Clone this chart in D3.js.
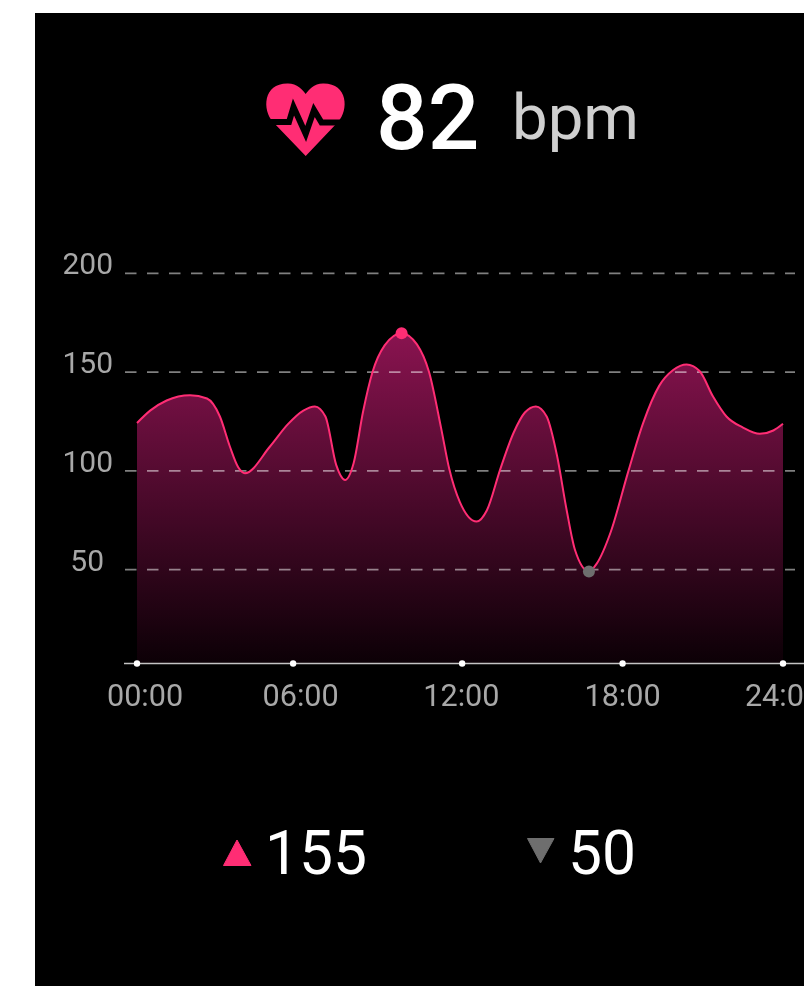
<!DOCTYPE html>
<html>
<head>
<meta charset="utf-8">
<script src="https://cdn.jsdelivr.net/npm/d3@7"></script>
<style>
  html, body { margin: 0; padding: 0; background: #fff; overflow: hidden; }
  svg { display: block; font-family: Roboto, sans-serif; }
</style>
</head>
<body>
<div id="chart"></div>
<script>
// hours of day
let hours = [0, 0.5, 1.1, 1.97, 2.6, 3.08, 3.45, 3.76, 4.01, 4.94, 5.6, 6.18, 6.61, 7.0, 7.4, 7.73, 8.05, 8.4, 8.75, 9.2, 9.83, 10.4, 10.85, 11.3, 11.6, 12.0, 12.62, 13.0, 13.5, 14.0, 14.41, 14.82, 15.22, 15.6, 15.96, 16.27, 16.79, 17.08, 17.6, 18.25, 18.8, 19.4, 19.92, 20.42, 20.9, 21.4, 21.9, 22.5, 23.14, 23.64, 24];
let bpm = [124.2, 130.6, 135.6, 138.3, 136.6, 127.5, 112.3, 101.8, 98.8, 112.3, 123.5, 130.5, 132.6, 127.5, 103, 95.4, 104, 130, 150, 163.5, 169.7, 164, 150, 121.5, 101, 84, 74.3, 80, 101, 119.5, 129.5, 132.6, 127.5, 108, 80.3, 60, 49, 53, 69, 99.6, 124, 143, 151, 153.8, 150.5, 137.6, 127.5, 122, 118.7, 120.4, 123.8];

let yTicks = [50, 100, 150, 200];
// the x ticks are not evenly spaced in the source picture
let xTickHours = [0, 5.8, 12.08, 18.04, 24];
let xLabelHours = [0.3, 6.08, 12.05, 18.04, 24.0];
let xTickLabels = ["00:00", "06:00", "12:00", "18:00", "24:00"];

let currentBpm = "82";
let maxLabel = "155";
let minLabel = "50";
let peakPoint = [9.83, 169.7];
let lowPoint = [16.79, 49];

let w = 804;
let h = 986;
let pink = "#ff2d74";
let gray = "#6e6e6e";

let xScale = d3.scaleLinear().domain([0, 24]).range([137, 783]);
let yScale = d3.scaleLinear().domain([0, 200]).range([668.3, 273.3]);
let axisY = 663.5;

let svg = d3.select("#chart").append("svg").attr("width", w).attr("height", h);
svg.append("rect").attr("x", 35).attr("y", 13).attr("width", w - 35).attr("height", h - 13).attr("fill", "#000");

let defs = svg.append("defs");
let grad = defs.append("linearGradient").attr("id", "areaFill")
  .attr("gradientUnits", "userSpaceOnUse")
  .attr("x1", 0).attr("x2", 0).attr("y1", yScale(170)).attr("y2", axisY);
grad.append("stop").attr("offset", 0).attr("stop-color", "#8a1350");
grad.append("stop").attr("offset", 1).attr("stop-color", "#0c0006");

// the source is a slightly soft upscaled screenshot
let soft = defs.append("filter").attr("id", "soft")
  .attr("filterUnits", "userSpaceOnUse")
  .attr("color-interpolation-filters", "sRGB")
  .attr("x", 35).attr("y", 13).attr("width", w).attr("height", h);
soft.append("feGaussianBlur").attr("stdDeviation", 0.7);

let viz = svg.append("g").attr("filter", "url(#soft)");

// header
let heart = viz.append("g");
heart.append("path")
  .attr("d", "M305.7,156 L273,122 C262,110 263,83 288,83.5 C297,83.5 303,90 305.7,94 C308.5,90 314,83.5 323,83.5 C348,83 349,110 338,122 Z")
  .attr("fill", pink);
heart.append("path")
  .attr("d", "M262,122 L289,122 L293.5,107 L305.7,134 L314,110 L321.5,122.5 L350,122.5")
  .attr("fill", "none").attr("stroke", "#000").attr("stroke-width", 6).attr("stroke-linejoin", "miter");

viz.append("text").attr("x", 376).attr("y", 149).attr("font-size", 91).attr("font-weight", 500).attr("fill", "#fff").text(currentBpm);
viz.append("text").attr("x", 512).attr("y", 139).attr("font-size", 63.5).attr("fill", "#cfcfcf").text("bpm");

// area + line
let area = d3.area().x((d, i) => xScale(hours[i])).y0(axisY).y1(d => yScale(d)).curve(d3.curveMonotoneX);
let line = d3.line().x((d, i) => xScale(hours[i])).y(d => yScale(d)).curve(d3.curveMonotoneX);

viz.append("path").datum(bpm).attr("d", area).attr("fill", "url(#areaFill)");

// y axis with the dashed grid
let yAxis = d3.axisLeft(yScale).tickValues(yTicks).tickSize(0).tickPadding(0).offset(0);
let yAxisGroup = viz.append("g").attr("transform", "translate(125,0)").call(yAxis);
yAxisGroup.select(".domain").remove();
yAxisGroup.selectAll(".tick line")
  .attr("x1", 0).attr("x2", 670)
  .attr("stroke", "#fff").attr("stroke-opacity", 0.5).attr("stroke-width", 1.8)
  .attr("stroke-dasharray", "11.5 10.5");
yAxisGroup.selectAll(".tick text")
  .attr("x", d => d == 50 ? -21 : -12)
  .attr("y", 1).attr("dy", 0)
  .attr("text-anchor", "end")
  .attr("font-family", "Roboto, sans-serif")
  .attr("font-size", 30).attr("fill", "#a8a8a8");

viz.append("path").datum(bpm).attr("d", line).attr("fill", "none").attr("stroke", pink).attr("stroke-width", 2);

// x axis
let xAxis = d3.axisBottom(xScale).tickValues(xTickHours).tickSize(0).offset(0).tickFormat((d, i) => xTickLabels[i]);
let xAxisGroup = viz.append("g").attr("transform", "translate(0," + axisY + ")").call(xAxis);
xAxisGroup.select(".domain").remove();
xAxisGroup.insert("line", ":first-child")
  .attr("x1", 124).attr("x2", w)
  .attr("stroke", "#c4c4c4").attr("stroke-width", 1.5);
xAxisGroup.selectAll(".tick").append("circle").attr("r", 3.2).attr("fill", "#fff");
xAxisGroup.selectAll(".tick text")
  .attr("x", (d, i) => xScale(xLabelHours[i]) - xScale(d))
  .attr("y", 42.5).attr("dy", 0)
  .attr("font-family", "Roboto, sans-serif")
  .attr("font-size", 30.6).attr("fill", "#a8a8a8");

// max / min markers
viz.append("circle").attr("cx", xScale(peakPoint[0])).attr("cy", yScale(peakPoint[1])).attr("r", 6).attr("fill", pink);
viz.append("circle").attr("cx", xScale(lowPoint[0])).attr("cy", yScale(lowPoint[1])).attr("r", 6).attr("fill", gray);

// footer
viz.append("path").attr("d", "M237,840 L251,865.5 L223.5,865.5 Z").attr("fill", pink)
  .attr("stroke", pink).attr("stroke-width", 1).attr("stroke-linejoin", "round");
viz.append("text").attr("x", 265).attr("y", 874).attr("font-size", 60.5).attr("fill", "#fff").text(maxLabel);
viz.append("path").attr("d", "M527.5,838.5 L554,838.5 L540.5,863 Z").attr("fill", gray)
  .attr("stroke", gray).attr("stroke-width", 1).attr("stroke-linejoin", "round");
viz.append("text").attr("x", 568).attr("y", 874).attr("font-size", 60.5).attr("fill", "#fff").text(minLabel);
</script>
</body>
</html>
